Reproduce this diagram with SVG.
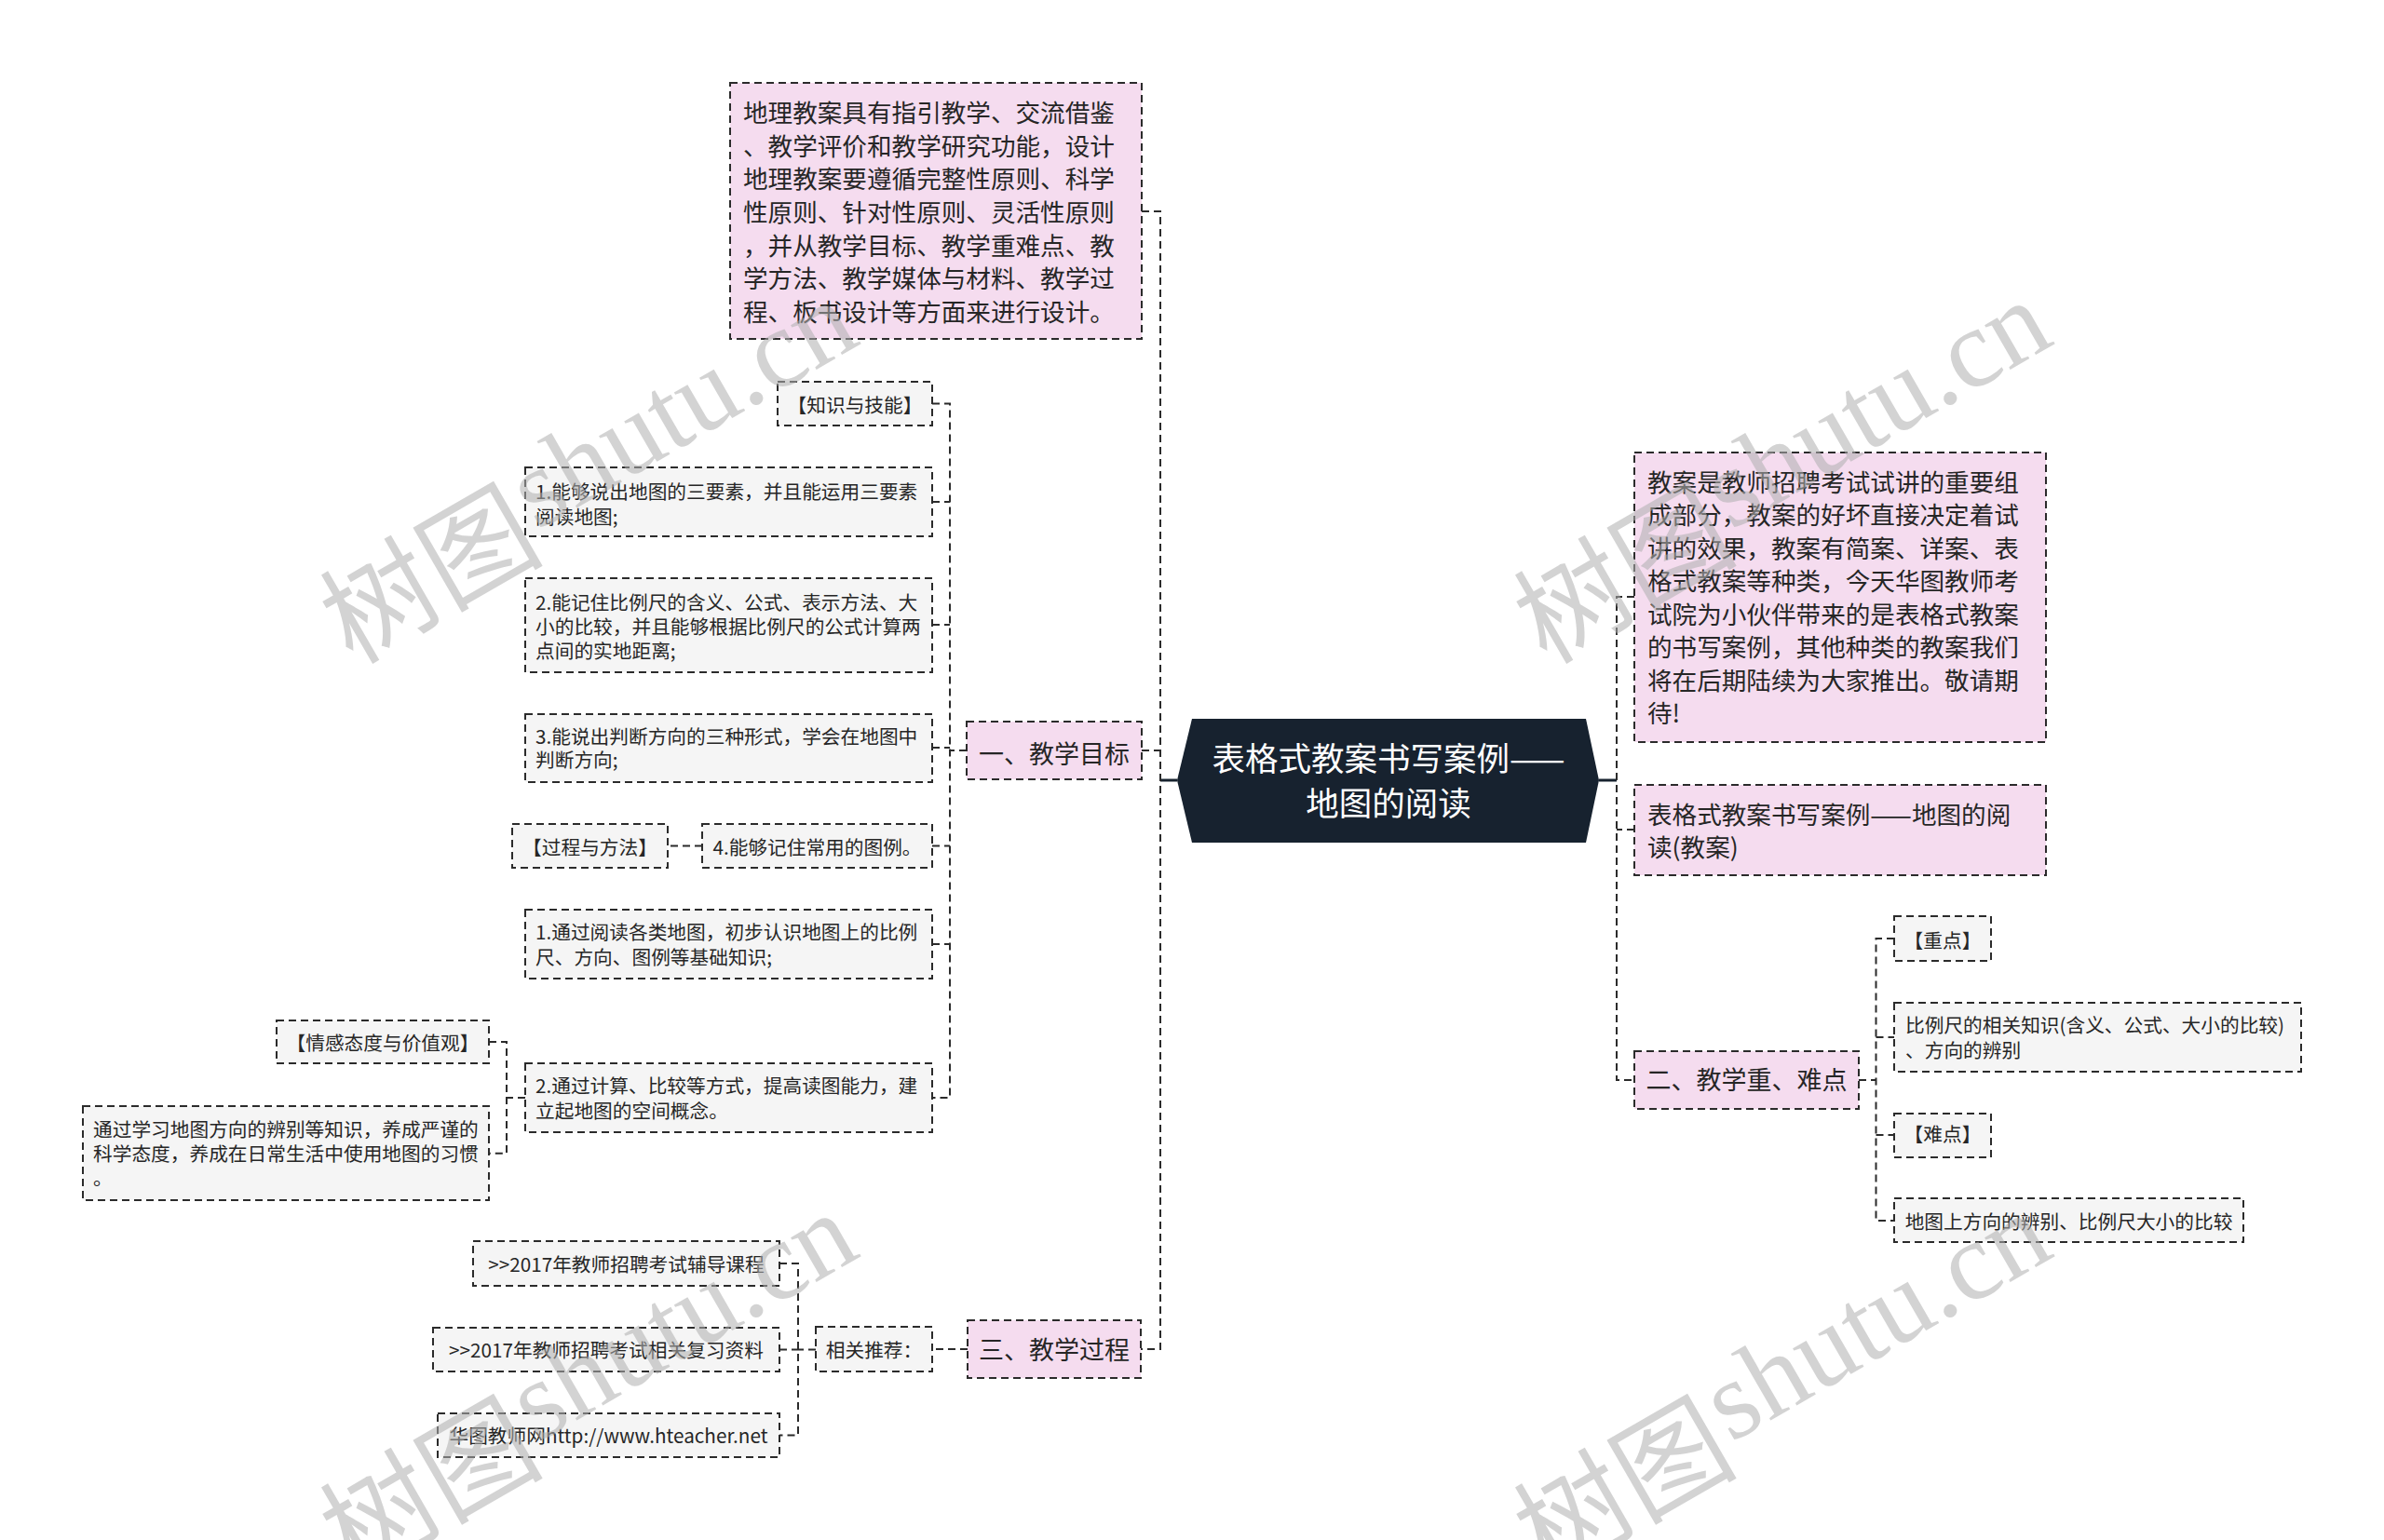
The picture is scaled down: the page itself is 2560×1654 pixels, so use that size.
<svg xmlns="http://www.w3.org/2000/svg" width="2560" height="1654" viewBox="0 0 2560 1654">
<style>
.pk{fill:#f5dcef;stroke:#2b2b2b;stroke-width:2;stroke-dasharray:8 5}
.gy{fill:#f5f5f5;stroke:#2b2b2b;stroke-width:2;stroke-dasharray:8 5}
.t{font-family:"Noto Sans CJK SC","Microsoft YaHei",sans-serif;fill:#262626}
.big{font-size:26.6px}
.l1{font-size:27px}
.sm{font-size:20.7px}
.c{text-anchor:middle}
.ln{fill:none;stroke:#2b2b2b;stroke-width:2;stroke-dasharray:8 5}
.so{fill:none;stroke:#17222f;stroke-width:3}
.wm{font-family:"Liberation Serif","Noto Sans CJK SC",serif;font-size:120px;fill:#b0b0b0;opacity:0.55}
</style>
<rect x="0" y="0" width="2560" height="1654" fill="#ffffff"/>

<g id="connectors">
  <path class="so" d="M1264,838 H1246"/>
  <path class="so" d="M1717,838 H1736"/>
  <path class="ln" d="M1226,227 H1246 V1449 H1225"/>
  <path class="ln" d="M1226,806 H1246"/>
  <path class="ln" d="M1755,641 H1736 V1160 H1755"/>
  <path class="ln" d="M1755,891 H1736"/>
  <path class="ln" d="M1038,806 H1020"/>
  <path class="ln" d="M1001,433.5 H1020 V1179 H1001"/>
  <path class="ln" d="M1001,539 H1020"/>
  <path class="ln" d="M1001,671 H1020"/>
  <path class="ln" d="M1001,803 H1020"/>
  <path class="ln" d="M1001,908.5 H1020"/>
  <path class="ln" d="M1001,1014 H1020"/>
  <path class="ln" d="M754,908.5 H717"/>
  <path class="ln" d="M564,1179 H544"/>
  <path class="ln" d="M525,1119 H544 V1238.8 H525"/>
  <path class="ln" d="M1039,1449 H1001"/>
  <path class="ln" d="M876,1449.5 H857"/>
  <path class="ln" d="M837,1357 H857 V1541.5 H837"/>
  <path class="ln" d="M837,1449.5 H857"/>
  <path class="ln" d="M1996,1160 H2014.5"/>
  <path class="ln" d="M2034,1008 H2014.5 V1311 H2034"/>
  <path class="ln" d="M2014.5,1114 H2034"/>
  <path class="ln" d="M2014.5,1219 H2034"/>
</g>

<g id="root">
  <polygon points="1280,772 1703,772 1717,838 1703,905 1280,905 1264,838" fill="#17222f"/>
  <text class="c" x="1491" y="827.8" font-family="Noto Sans CJK SC, sans-serif" font-size="35.5" fill="#ffffff">表格式教案书写案例——</text>
  <text class="c" x="1491" y="875.8" font-family="Noto Sans CJK SC, sans-serif" font-size="35.5" fill="#ffffff">地图的阅读</text>
</g>

<g id="intro-left">
  <rect class="pk" x="784" y="89" width="442" height="275"/>
  <text class="t big" x="798" y="131.2">地理教案具有指引教学、交流借鉴</text>
  <text class="t big" x="798" y="166.8">、教学评价和教学研究功能，设计</text>
  <text class="t big" x="798" y="202.4">地理教案要遵循完整性原则、科学</text>
  <text class="t big" x="798" y="238">性原则、针对性原则、灵活性原则</text>
  <text class="t big" x="798" y="273.6">，并从教学目标、教学重难点、教</text>
  <text class="t big" x="798" y="309.2">学方法、教学媒体与材料、教学过</text>
  <text class="t big" x="798" y="344.8">程、板书设计等方面来进行设计。</text>
</g>

<g id="goal">
  <rect class="pk" x="1038" y="775" width="188" height="62"/>
  <text class="t l1 c" x="1132" y="820">一、教学目标</text>
</g>
<g id="process">
  <rect class="pk" x="1039" y="1418" width="186" height="62"/>
  <text class="t l1 c" x="1132" y="1460">三、教学过程</text>
</g>

<g id="intro-right">
  <rect class="pk" x="1755" y="486" width="442" height="311"/>
  <text class="t big" x="1769" y="527.8">教案是教师招聘考试试讲的重要组</text>
  <text class="t big" x="1769" y="563.3">成部分，教案的好坏直接决定着试</text>
  <text class="t big" x="1769" y="598.8">讲的效果，教案有简案、详案、表</text>
  <text class="t big" x="1769" y="634.3">格式教案等种类，今天华图教师考</text>
  <text class="t big" x="1769" y="669.8">试院为小伙伴带来的是表格式教案</text>
  <text class="t big" x="1769" y="705.3">的书写案例，其他种类的教案我们</text>
  <text class="t big" x="1769" y="740.8">将在后期陆续为大家推出。敬请期</text>
  <text class="t big" x="1769" y="776.3">待!</text>
</g>
<g id="title-right">
  <rect class="pk" x="1755" y="843" width="442" height="97"/>
  <text class="t big" x="1769" y="884.5">表格式教案书写案例——地图的阅</text>
  <text class="t big" x="1769" y="920">读(教案)</text>
</g>
<g id="keypoints">
  <rect class="pk" x="1755" y="1129" width="241" height="62"/>
  <text class="t l1 c" x="1875.5" y="1170">二、教学重、难点</text>
</g>

<g id="kp-1">
  <rect class="gy" x="2034" y="984" width="104" height="48"/>
  <text class="t sm c" x="2086" y="1017.5">【重点】</text>
</g>
<g id="kp-2">
  <rect class="gy" x="2034" y="1077" width="437" height="74"/>
  <text class="t sm" x="2046" y="1109.2">比例尺的相关知识(含义、公式、大小的比较)</text>
  <text class="t sm" x="2046" y="1135.8">、方向的辨别</text>
</g>
<g id="kp-3">
  <rect class="gy" x="2034" y="1196" width="104" height="47"/>
  <text class="t sm c" x="2086" y="1225.8">【难点】</text>
</g>
<g id="kp-4">
  <rect class="gy" x="2034" y="1287" width="375" height="47"/>
  <text class="t sm c" x="2221.5" y="1320.2">地图上方向的辨别、比例尺大小的比较</text>
</g>

<g id="g-skill">
  <rect class="gy" x="835" y="410" width="166" height="47"/>
  <text class="t sm c" x="918" y="442.5">【知识与技能】</text>
</g>
<g id="g-1">
  <rect class="gy" x="564" y="502" width="437" height="74"/>
  <text class="t sm" x="575" y="535.8">1.能够说出地图的三要素，并且能运用三要素</text>
  <text class="t sm" x="575" y="562.5">阅读地图;</text>
</g>
<g id="g-2">
  <rect class="gy" x="564" y="621" width="437" height="101"/>
  <text class="t sm" x="575" y="654.8">2.能记住比例尺的含义、公式、表示方法、大</text>
  <text class="t sm" x="575" y="680.8">小的比较，并且能够根据比例尺的公式计算两</text>
  <text class="t sm" x="575" y="706.8">点间的实地距离;</text>
</g>
<g id="g-3">
  <rect class="gy" x="564" y="767" width="437" height="73"/>
  <text class="t sm" x="575" y="799.2">3.能说出判断方向的三种形式，学会在地图中</text>
  <text class="t sm" x="575" y="824.2">判断方向;</text>
</g>
<g id="g-4">
  <rect class="gy" x="754" y="885" width="247" height="47"/>
  <text class="t sm c" x="877.5" y="917.5">4.能够记住常用的图例。</text>
</g>
<g id="g-method">
  <rect class="gy" x="550" y="885" width="167" height="47"/>
  <text class="t sm c" x="633.5" y="917.5">【过程与方法】</text>
</g>
<g id="g-5">
  <rect class="gy" x="564" y="977" width="437" height="74"/>
  <text class="t sm" x="575" y="1009.2">1.通过阅读各类地图，初步认识地图上的比例</text>
  <text class="t sm" x="575" y="1035.8">尺、方向、图例等基础知识;</text>
</g>
<g id="g-6">
  <rect class="gy" x="564" y="1142" width="437" height="74"/>
  <text class="t sm" x="575" y="1174.2">2.通过计算、比较等方式，提高读图能力，建</text>
  <text class="t sm" x="575" y="1200.8">立起地图的空间概念。</text>
</g>
<g id="g-emotion">
  <rect class="gy" x="297" y="1096" width="228" height="46"/>
  <text class="t sm c" x="411" y="1127.5">【情感态度与价值观】</text>
</g>
<g id="g-7">
  <rect class="gy" x="89" y="1188" width="436" height="101"/>
  <text class="t sm" x="100" y="1220.8">通过学习地图方向的辨别等知识，养成严谨的</text>
  <text class="t sm" x="100" y="1246.8">科学态度，养成在日常生活中使用地图的习惯</text>
  <text class="t sm" x="100" y="1273">。</text>
</g>

<g id="p-rec">
  <rect class="gy" x="876" y="1425" width="125" height="48"/>
  <text class="t sm c" x="938.5" y="1457.5">相关推荐：</text>
</g>
<g id="p-1">
  <rect class="gy" x="508" y="1333" width="329" height="48"/>
  <text class="t sm c" x="672.5" y="1365.8">&gt;&gt;2017年教师招聘考试辅导课程</text>
</g>
<g id="p-2">
  <rect class="gy" x="465" y="1426" width="372" height="47"/>
  <text class="t sm c" x="651" y="1457.5">&gt;&gt;2017年教师招聘考试相关复习资料</text>
</g>
<g id="p-3">
  <rect class="gy" x="470" y="1518" width="367" height="47"/>
  <text class="t sm c" x="653.5" y="1549.8">华图教师网http://www.hteacher.net</text>
</g>

<g id="watermarks">
  <text class="wm" transform="translate(343,705) rotate(-30)"><tspan dx="26" dy="26">树图</tspan><tspan dx="4" dy="-26">shutu.cn</tspan></text>
  <text class="wm" transform="translate(1625,705) rotate(-30)"><tspan dx="26" dy="26">树图</tspan><tspan dx="4" dy="-26">shutu.cn</tspan></text>
  <text class="wm" transform="translate(343,1685) rotate(-30)"><tspan dx="26" dy="26">树图</tspan><tspan dx="4" dy="-26">shutu.cn</tspan></text>
  <text class="wm" transform="translate(1625,1685) rotate(-30)"><tspan dx="26" dy="26">树图</tspan><tspan dx="4" dy="-26">shutu.cn</tspan></text>
</g>
</svg>
